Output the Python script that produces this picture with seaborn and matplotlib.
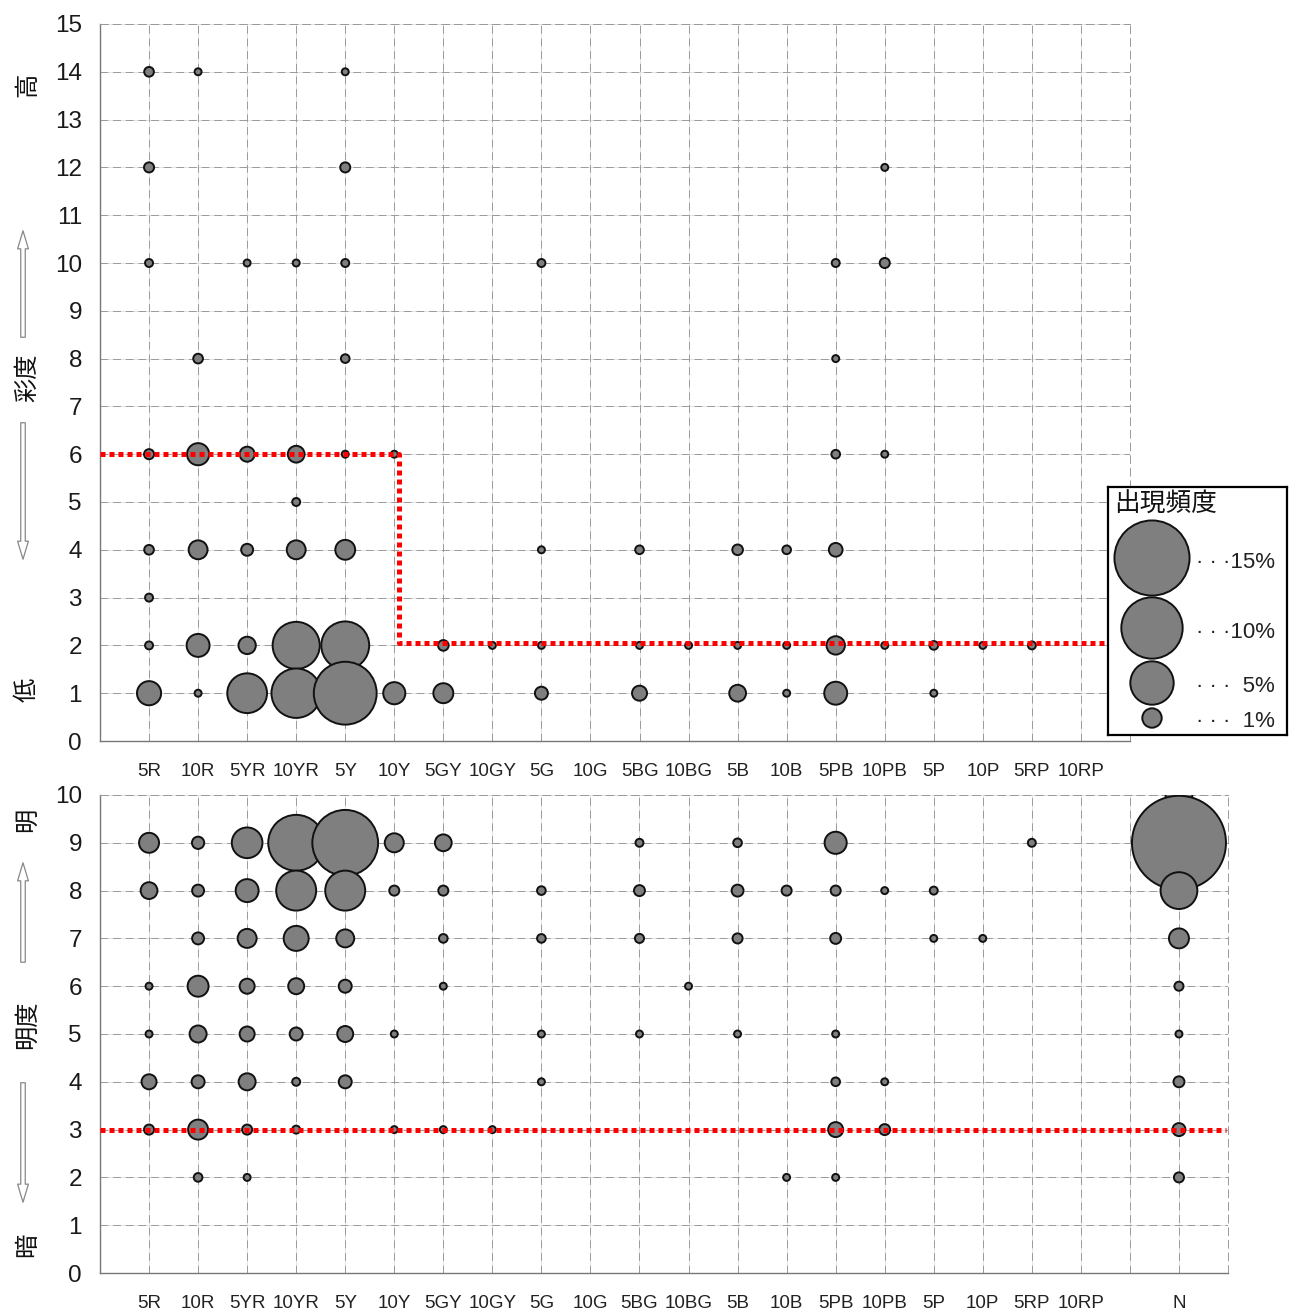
import matplotlib
matplotlib.use("Agg")
import numpy as np
import pandas as pd
import matplotlib.pyplot as plt
import seaborn as sns

# Hue names (Munsell)
hues = ["5R", "10R", "5YR", "10YR", "5Y", "10Y", "5GY", "10GY", "5G", "10G",
        "5BG", "10BG", "5B", "10B", "5PB", "10PB", "5P", "10P", "5RP", "10RP"]
value_cats = hues + [" ", "N"]

# Chroma panel: hue, chroma, frequency (%)
chroma_hue = ["5R", "10R", "5Y",
              "5R", "5Y", "10PB",
              "5R", "5YR", "10YR", "5Y", "5G", "5PB", "10PB",
              "10R", "5Y", "5PB",
              "5R", "10R", "5YR", "10YR", "5Y", "10Y", "5PB", "10PB",
              "10YR",
              "5R", "10R", "5YR", "10YR", "5Y", "5G", "5BG", "5B", "10B", "5PB",
              "5R",
              "5R", "10R", "5YR", "10YR", "5Y", "5GY", "10GY", "5G", "5BG", "10BG",
              "5B", "10B", "5PB", "10PB", "5P", "10P", "5RP",
              "5R", "10R", "5YR", "10YR", "5Y", "10Y", "5GY", "5G", "5BG", "5B",
              "10B", "5PB", "5P"]
chroma_level = [14, 14, 14,
                12, 12, 12,
                10, 10, 10, 10, 10, 10, 10,
                8, 8, 8,
                6, 6, 6, 6, 6, 6, 6, 6,
                5,
                4, 4, 4, 4, 4, 4, 4, 4, 4, 4,
                3,
                2, 2, 2, 2, 2, 2, 2, 2, 2, 2, 2, 2, 2, 2, 2, 2, 2,
                1, 1, 1, 1, 1, 1, 1, 1, 1, 1, 1, 1, 1]
chroma_pct = [0.25, 0.13, 0.13,
              0.27, 0.27, 0.13,
              0.17, 0.13, 0.13, 0.17, 0.17, 0.17, 0.27,
              0.25, 0.2, 0.13,
              0.27, 1.3, 0.6, 0.75, 0.13, 0.13, 0.2, 0.13,
              0.17,
              0.25, 0.95, 0.38, 0.95, 1.05, 0.13, 0.2, 0.3, 0.2, 0.5,
              0.17,
              0.17, 1.4, 0.8, 5.9, 6.1, 0.3, 0.13, 0.13, 0.13, 0.13,
              0.13, 0.13, 0.9, 0.13, 0.2, 0.13, 0.17,
              1.55, 0.13, 4.2, 6.5, 10.5, 1.3, 1.06, 0.45, 0.6, 0.75,
              0.13, 1.4, 0.13]

# Value panel: hue, value, frequency (%)
value_hue = ["N",
             "5R", "10R", "5YR", "10YR", "5Y", "10Y", "5GY", "5BG", "5B", "5PB", "5RP", "N",
             "5R", "10R", "5YR", "10YR", "5Y", "10Y", "5GY", "5G", "5BG", "5B", "10B", "5PB",
             "10PB", "5P", "N",
             "10R", "5YR", "10YR", "5Y", "5GY", "5G", "5BG", "5B", "5PB", "5P", "10P", "N",
             "5R", "10R", "5YR", "10YR", "5Y", "5GY", "10BG", "N",
             "5R", "10R", "5YR", "10YR", "5Y", "10Y", "5G", "5BG", "5B", "5PB", "N",
             "5R", "10R", "5YR", "10YR", "5Y", "5G", "5PB", "10PB", "N",
             "5R", "10R", "5YR", "10YR", "10Y", "5GY", "10GY", "5PB", "10PB", "N",
             "10R", "5YR", "10B", "5PB", "N"]
value_level = [10,
               9, 9, 9, 9, 9, 9, 9, 9, 9, 9, 9, 9,
               8, 8, 8, 8, 8, 8, 8, 8, 8, 8, 8, 8, 8, 8, 8,
               7, 7, 7, 7, 7, 7, 7, 7, 7, 7, 7, 7,
               6, 6, 6, 6, 6, 6, 6, 6,
               5, 5, 5, 5, 5, 5, 5, 5, 5, 5, 5,
               4, 4, 4, 4, 4, 4, 4, 4, 4,
               3, 3, 3, 3, 3, 3, 3, 3, 3, 3,
               2, 2, 2, 2, 2]
value_pct = [1.9,
             1.06, 0.4, 2.5, 8.3, 11.5, 0.96, 0.75, 0.17, 0.2, 1.3, 0.17, 23.5,
             0.75, 0.38, 1.4, 4.25, 4.25, 0.27, 0.27, 0.2, 0.32, 0.38, 0.27, 0.27,
             0.13, 0.17, 3.6,
             0.38, 0.96, 1.66, 0.86, 0.2, 0.2, 0.22, 0.27, 0.32, 0.13, 0.13, 1.06,
             0.13, 1.17, 0.6, 0.68, 0.45, 0.13, 0.13, 0.22,
             0.13, 0.77, 0.6, 0.45, 0.68, 0.13, 0.13, 0.13, 0.13, 0.13, 0.13,
             0.6, 0.45, 0.77, 0.17, 0.45, 0.13, 0.2, 0.13, 0.32,
             0.27, 1.06, 0.27, 0.17, 0.13, 0.13, 0.13, 0.6, 0.32, 0.45,
             0.2, 0.13, 0.13, 0.13, 0.27]

# Threshold lines (red dotted)
chroma_line_x = [-1, 5.1, 5.1, 19.6]
chroma_line_y = [6, 6, 2.05, 2.05]
value_line_x = [-1, 21.95]
value_line_y = [3, 3]

# Legend
legend_pct = [15, 10, 5, 1]
legend_text = ["· · ·15%", "· · ·10%", "· · ·  5%", "· · ·  1%"]

df_c = pd.DataFrame({"x": pd.Categorical(chroma_hue, categories=hues).codes,
                     "y": chroma_level, "p": chroma_pct})
df_v = pd.DataFrame({"x": pd.Categorical(value_hue, categories=value_cats).codes,
                     "y": value_level, "p": value_pct})

sns.set_style("white")
plt.rcParams["font.family"] = ["Liberation Sans", "Noto Sans CJK JP", "DejaVu Sans"]

W, H = 1289, 1316
fig = plt.figure(figsize=(W / 100, H / 100), dpi=100)


def fx(px):
    return px / W


def fy(py):
    return 1 - py / H


ax1 = fig.add_axes([fx(100), fy(741), fx(1130) - fx(100), fy(24) - fy(741)])
ax2 = fig.add_axes([fx(100), fy(1273), fx(1228) - fx(100), fy(795) - fy(1273)])

SIZE_KW = dict(size="p", sizes=(0, 19500), size_norm=(0, 100), color="#7f7f7f",
               edgecolor="#111111", linewidth=1.4, legend=False, zorder=3)


def style_axes(ax, xlabels, ymax):
    ax.set_xticks(range(len(xlabels)))
    ax.set_xticklabels(xlabels)
    ax.set_yticks(range(ymax + 1))
    ax.set_ylim(0, ymax)
    ax.set_xlim(-1, len(xlabels))
    ax.set_xlabel("")
    ax.set_ylabel("")
    ax.vlines(range(len(xlabels)), 0, ymax, color="#dedede", lw=0.6, zorder=0)
    ax.hlines(range(ymax + 1), -1, len(xlabels), color="#dedede", lw=0.6, zorder=0)
    ax.grid(True, color="#9a9a9a", lw=0.7, ls=(0, (8, 5)), zorder=1)
    ax.set_axisbelow(True)
    for s in ["left", "bottom"]:
        ax.spines[s].set_color("#777777")
        ax.spines[s].set_linewidth(1.0)
    for s in ["top", "right"]:
        ax.spines[s].set_color("#9a9a9a")
        ax.spines[s].set_linewidth(0.7)
        ax.spines[s].set_linestyle((0, (8, 5)))
    ax.tick_params(axis="x", direction="in", length=5, color="#777777",
                   labelsize=13.5, pad=16, labelcolor="#222222")
    ax.tick_params(axis="y", direction="in", length=5, color="#777777",
                   labelsize=17.5, pad=13, labelcolor="#1a1a1a")


sns.scatterplot(data=df_c, x="x", y="y", ax=ax1, **SIZE_KW)
ax1.plot(chroma_line_x, chroma_line_y, color="red", lw=3.6, ls=(0, (1, 0.8)), zorder=4)
style_axes(ax1, hues, 15)

sns.scatterplot(data=df_v, x="x", y="y", ax=ax2, **SIZE_KW)
ax2.plot(value_line_x, value_line_y, color="red", lw=3.6, ls=(0, (1, 0.8)), zorder=4)
style_axes(ax2, value_cats, 10)

# Side labels (rotated)
jp = dict(rotation=90, ha="center", va="center", fontsize=17.5,
          family=["Noto Sans CJK JP", "DejaVu Sans"], color="#111111")
fig.text(fx(27), fy(85), "高", **jp)
fig.text(fx(27), fy(378), "彩度", **jp)
fig.text(fx(27), fy(690), "低", **jp)
fig.text(fx(27), fy(820), "明", **jp)
fig.text(fx(27), fy(1025), "明度", **jp)
fig.text(fx(27), fy(1245), "暗", **jp)

for (y0, y1) in [(340, 228), (420, 562), (965, 860), (1080, 1205)]:
    fig.add_artist(matplotlib.patches.FancyArrowPatch(
        (fx(23), fy(y0)), (fx(23), fy(y1)), transform=fig.transFigure,
        arrowstyle="simple,head_width=0.6,head_length=1.0,tail_width=0.25",
        mutation_scale=13, fc="white", ec="#888888", lw=0.9))

# Legend box
axl = fig.add_axes([fx(1108), fy(735), fx(1287) - fx(1108), fy(487) - fy(735)], zorder=5)
axl.set_facecolor("white")
df_l = pd.DataFrame({"x": [44] * 4, "y": [71, 141, 196, 231], "p": legend_pct})
sns.scatterplot(data=df_l, x="x", y="y", ax=axl, **SIZE_KW)
axl.set_xlim(0, 179)
axl.set_ylim(248, 0)
axl.set_xticks([])
axl.set_yticks([])
axl.set_xlabel("")
axl.set_ylabel("")
for s in axl.spines.values():
    s.set_color("black")
    s.set_linewidth(1.6)
axl.text(6, 18, "出現頻度", fontsize=18.5, va="center", ha="left",
         family=["Noto Sans CJK JP", "DejaVu Sans"], color="#111111")
for yy, t in zip(df_l["y"], legend_text):
    axl.text(88, yy + 4, t, fontsize=16, va="center", ha="left", color="#222222")

fig.savefig("out.png", dpi=100)
